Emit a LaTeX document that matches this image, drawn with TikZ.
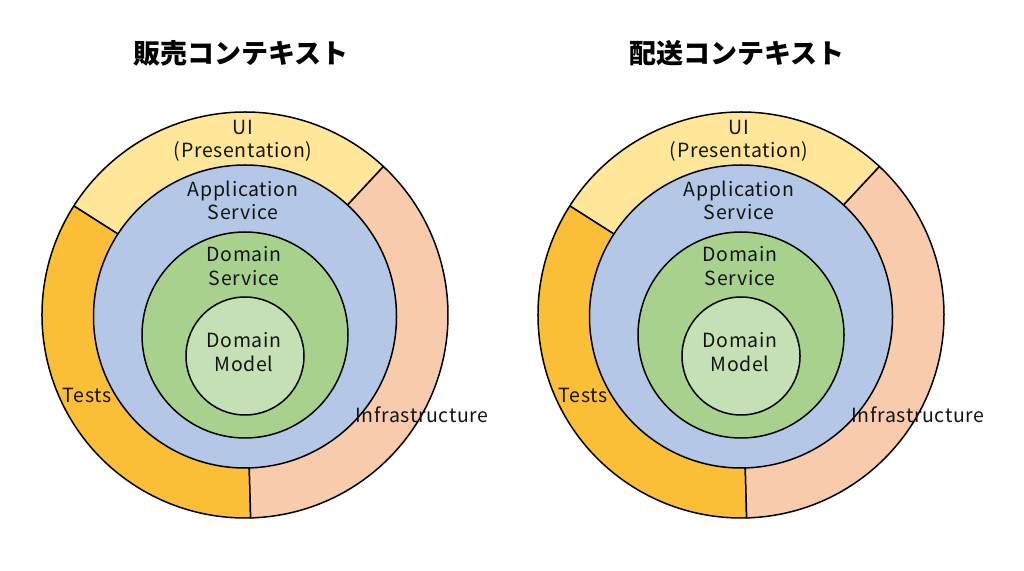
\documentclass[tikz,border=0pt]{standalone}
\usepackage{fontspec}
\setmainfont{Noto Sans CJK JP}
\newfontfamily\labfont[LetterSpace=3.5]{Noto Sans CJK JP}
\usepackage{tikz}
\usetikzlibrary{calc}
\definecolor{uiyel}{HTML}{FFE699}
\definecolor{testor}{HTML}{FBBE37}
\definecolor{infra}{HTML}{F8CBAD}
\definecolor{appblue}{HTML}{B4C7E7}
\definecolor{dsgreen}{HTML}{A9D18E}
\definecolor{dmgreen}{HTML}{C5E0B4}
\definecolor{ink}{HTML}{141414}
\tikzset{
  base/.style={draw=black, line width=1.5pt, line join=round},
  lab/.style={text=ink, font=\labfont\fontsize{19.5}{23.5}\selectfont, align=center, inner sep=0pt},
  ttl/.style={text=black, font=\fontsize{27}{30}\selectfont\bfseries, inner sep=0pt},
}

\begin{document}
\begin{tikzpicture}[x=1pt, y=1pt]
  \useasboundingbox (0,0) rectangle (1024,570);
  \fill[white] (0,0) rectangle (1024,570);
  \foreach \dx/\ctx/\k in {0/販売コンテキスト/a, 496/配送コンテキスト/b} {
    \begin{scope}[xshift=\dx]
      \coordinate (c\k) at (245,255);
      % outer ring: UI, Tests, Infrastructure
      \foreach \a/\b/\col in {47/147.5/uiyel, 147.5/271.6/testor, 271.6/407/infra}
        \filldraw[base, fill=\col] ([shift={(\a:203)}]c\k) arc[start angle=\a, end angle=\b, radius=203]
          -- ([shift={(\b:145)}]c\k) arc[start angle=\b, end angle=\a, radius=145] -- cycle;
      % layers
      \filldraw[base, fill=appblue] (245,253.5) circle[radius=151.5];
      \filldraw[base, fill=dsgreen] (245,235) circle[radius=103];
      \filldraw[base, fill=dmgreen] (245,214) circle[radius=59];
      % labels
      \node[ttl] (ttl\k) at (241,517) {\ctx};
      \node[lab] (ui\k) at (243,429) {UI\\(Presentation)};
      \node[lab] (app\k) at (243,369.5) {Application\\Service};
      \node[lab] (dsv\k) at (244,304) {Domain\\Service};
      \node[lab] (dmd\k) at (244,218) {Domain\\Model};
      \node[lab] (tst\k) at (87,175) {Tests};
      \node[lab] (inf\k) at (422,155) {Infrastructure};
    \end{scope}
  }
\end{tikzpicture}
\end{document}
